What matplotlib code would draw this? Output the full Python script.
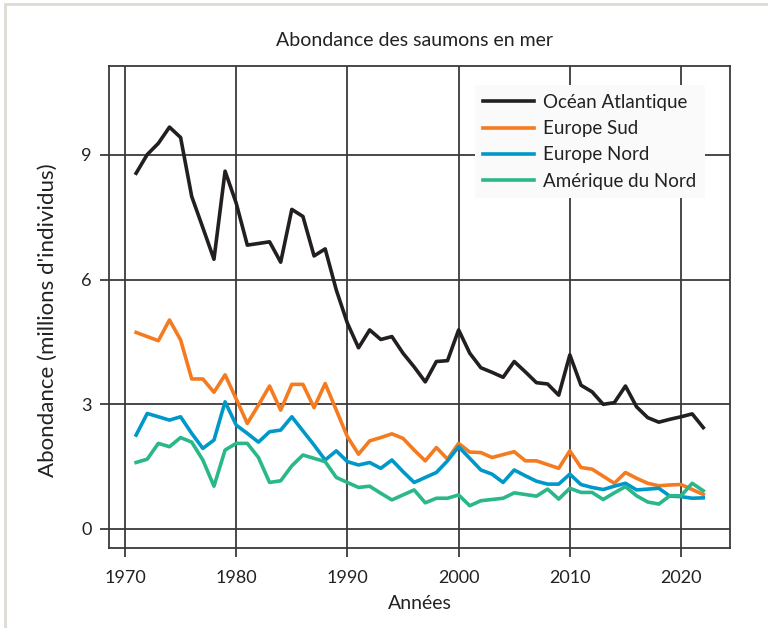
#%%
import matplotlib.pyplot as plt
from matplotlib.patches import Rectangle
import numpy as np

plt.rcParams['font.family'] = ['Lato', 'DejaVu Sans']

#%% Données (millions d'individus)
annees = np.arange(1971, 2023)

atlantique = [8.56, 9.01, 9.28, 9.67, 9.42, 8.00, 7.25, 6.49, 8.61, 7.84,
              6.83, 6.87, 6.91, 6.42, 7.69, 7.52, 6.57, 6.74, 5.75, 4.95,
              4.36, 4.79, 4.56, 4.63, 4.23, 3.90, 3.54, 4.03, 4.05, 4.79,
              4.23, 3.88, 3.77, 3.65, 4.03, 3.78, 3.52, 3.49, 3.22, 4.19,
              3.46, 3.30, 3.00, 3.04, 3.44, 2.94, 2.68, 2.57, 2.64, 2.70,
              2.77, 2.44]

europe_sud = [4.73, 4.63, 4.53, 5.03, 4.55, 3.61, 3.61, 3.29, 3.71, 3.13,
              2.54, 2.98, 3.44, 2.86, 3.48, 3.48, 2.92, 3.50, 2.86, 2.22,
              1.80, 2.12, 2.20, 2.29, 2.18, 1.90, 1.64, 1.96, 1.68, 2.06,
              1.85, 1.84, 1.72, 1.79, 1.86, 1.64, 1.64, 1.55, 1.46, 1.88,
              1.48, 1.44, 1.27, 1.10, 1.36, 1.22, 1.10, 1.04, 1.06, 1.07,
              0.95, 0.83]

europe_nord = [2.26, 2.78, 2.70, 2.62, 2.70, 2.30, 1.94, 2.14, 3.06, 2.50,
               2.30, 2.09, 2.34, 2.38, 2.70, 2.36, 2.02, 1.66, 1.88, 1.62,
               1.54, 1.60, 1.46, 1.66, 1.38, 1.12, 1.24, 1.36, 1.64, 1.98,
               1.70, 1.42, 1.32, 1.12, 1.42, 1.28, 1.15, 1.08, 1.08, 1.32,
               1.07, 1.00, 0.95, 1.03, 1.10, 0.94, 0.96, 0.98, 0.79, 0.78,
               0.74, 0.75]

amerique_nord = [1.60, 1.68, 2.06, 1.98, 2.20, 2.09, 1.66, 1.03, 1.90, 2.06,
                 2.06, 1.72, 1.12, 1.16, 1.52, 1.78, 1.70, 1.62, 1.24, 1.12,
                 1.00, 1.03, 0.86, 0.70, 0.82, 0.94, 0.63, 0.74, 0.74, 0.82,
                 0.56, 0.68, 0.71, 0.74, 0.87, 0.83, 0.79, 0.96, 0.72, 0.98,
                 0.88, 0.88, 0.71, 0.87, 1.02, 0.80, 0.65, 0.60, 0.80, 0.80,
                 1.10, 0.92]

series = [("Océan Atlantique", atlantique, "#231f20"),
          ("Europe Sud", europe_sud, "#f47b20"),
          ("Europe Nord", europe_nord, "#0098c9"),
          ("Amérique du Nord", amerique_nord, "#2ab78a")]

xticks = [1970, 1980, 1990, 2000, 2010, 2020]
yticks = [0, 3, 6, 9]

#%%
GRIS = "#3a3a3a"
TEXTE = "#222222"
fig = plt.figure(figsize=(7.68, 6.28), dpi=100)
ax = fig.add_axes([0.1419, 0.1274, 0.8086, 0.7675])

for nom, vals, col in series:
    ax.plot(annees, vals, color=col, lw=2.6, label=nom)

ax.set_xlim(1968.56, 2024.4)
ax.set_ylim(-0.457, 11.14)
ax.set_xticks(xticks)
ax.set_yticks(yticks)
ax.grid(True, color=GRIS, lw=1.3)
ax.set_axisbelow(True)
ax.tick_params(direction="out", length=6.5, width=1.3, color=GRIS,
               labelsize=13, labelcolor=TEXTE, pad=6)
ax.tick_params(axis="x", pad=9)
for s in ax.spines.values():
    s.set_color(GRIS)
    s.set_linewidth(1.3)

ax.set_xlabel("Années", fontsize=14, color=TEXTE, labelpad=7)
ax.set_ylabel("Abondance (millions d'individus)", fontsize=16, color=TEXTE)
ax.yaxis.set_label_coords(-0.082, 0.473)

leg = ax.legend(loc="upper right", bbox_to_anchor=(0.960, 0.960),
                borderaxespad=0, fontsize=13.5, handlelength=2.7,
                handletextpad=0.5, labelspacing=0.5, borderpad=0.45,
                frameon=True, fancybox=False, framealpha=1)
leg.get_frame().set_facecolor("#fafafa")
leg.get_frame().set_edgecolor("none")
for t in leg.get_texts():
    t.set_color(TEXTE)

fig.text(0.54, 0.936, "Abondance des saumons en mer", ha="center",
         va="center", fontsize=14, color=TEXTE)

fig.patches.append(Rectangle((0.006, -0.05), 1.1, 1.043, transform=fig.transFigure,
                             fill=False, edgecolor="#dedad4", lw=2))

fig.savefig("out.png", dpi=100)
